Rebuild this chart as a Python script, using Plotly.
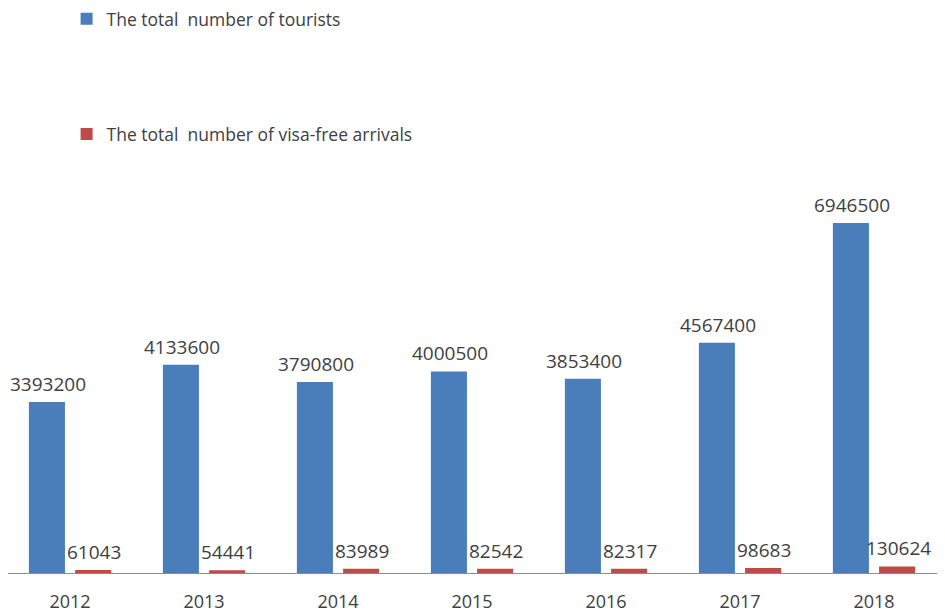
import plotly.graph_objects as go

years = ["2012", "2013", "2014", "2015", "2016", "2017", "2018"]
tourists = [3393200, 4133600, 3790800, 4000500, 3853400, 4567400, 6946500]
visa_free = [61043, 54441, 83989, 82542, 82317, 98683, 130624]

blue = "#4a7ebb"
red = "#be4b48"
txt = "#404040"
font_family = "'Open Sans', Lato, sans-serif"

fig = go.Figure()
fig.add_trace(go.Bar(x=years, y=tourists, name="The total  number of tourists",
                     marker=dict(color=blue, line=dict(width=0)), legend="legend"))
fig.add_trace(go.Bar(x=years, y=visa_free, name="The total  number of visa-free arrivals",
                     marker=dict(color=red, line=dict(width=0)), legend="legend2"))

# category index positions for the value labels
for i, v in enumerate(tourists):
    fig.add_annotation(x=i, y=v, text=str(v), showarrow=False, xshift=-22, yshift=18,
                       yanchor="middle", font=dict(size=19, color=txt, family=font_family))
for i, v in enumerate(visa_free):
    fig.add_annotation(x=i, y=v, text=str(v), showarrow=False, xshift=24, yshift=18,
                       yanchor="middle", font=dict(size=19, color=txt, family=font_family))

fig.update_layout(
    width=945, height=616,
    margin=dict(l=0, r=12, t=172, b=51, autoexpand=False),
    paper_bgcolor="white", plot_bgcolor="white",
    barmode="group", bargap=0.31, bargroupgap=0.22,
    font=dict(family=font_family, color=txt),
    showlegend=True,
    legend=dict(x=0.062, y=1.41, xref="container", yref="paper", xanchor="left", yanchor="middle",
                font=dict(size=17.5, color=txt), bgcolor="rgba(0,0,0,0)", itemwidth=30),
    legend2=dict(x=0.062, y=1.117, xref="container", yref="paper", xanchor="left", yanchor="middle",
                 font=dict(size=17.5, color=txt), bgcolor="rgba(0,0,0,0)", itemwidth=30),
    xaxis=dict(type="category", range=[-0.463, len(years) - 0.5], showline=True, linecolor="#8c8c8c",
               linewidth=1, showgrid=False, ticks="",
               tickfont=dict(size=18, color=txt, family=font_family), ticklabelstandoff=12),
    yaxis=dict(visible=False, range=[0, 7.8e6], showgrid=False, zeroline=False),
)

fig.write_html("out.html")
